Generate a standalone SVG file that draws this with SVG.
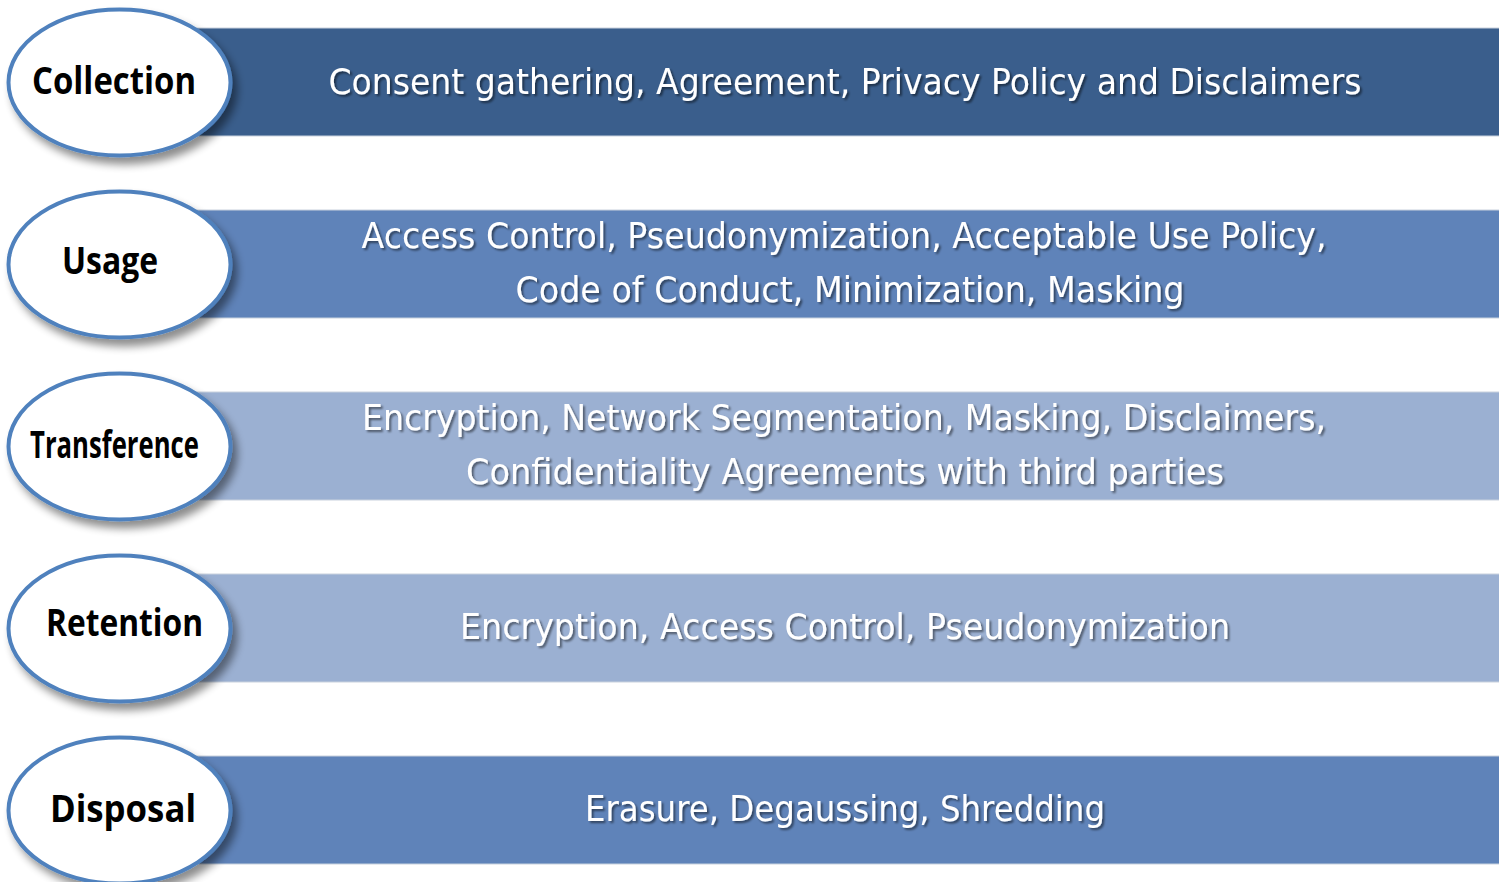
<svg xmlns="http://www.w3.org/2000/svg" width="1499" height="882" viewBox="0 0 1499 882">
  <defs>
    <filter id="ovalShadow" x="-20%" y="-20%" width="150%" height="160%">
      <feGaussianBlur in="SourceAlpha" stdDeviation="4"/>
      <feOffset dx="5" dy="7" result="b"/>
      <feComponentTransfer><feFuncA type="linear" slope="0.45"/></feComponentTransfer>
      <feMerge><feMergeNode/><feMergeNode in="SourceGraphic"/></feMerge>
    </filter>
    <filter id="textShadow" x="-5%" y="-30%" width="110%" height="170%">
      <feGaussianBlur in="SourceAlpha" stdDeviation="1"/>
      <feOffset dx="2" dy="2"/>
      <feComponentTransfer><feFuncA type="linear" slope="0.5"/></feComponentTransfer>
      <feMerge><feMergeNode/><feMergeNode in="SourceGraphic"/></feMerge>
    </filter>
  </defs>
  <style>
    .band { stroke: #c9d2de; stroke-width: 1; }
    .dark { fill: #3a5e8c; }
    .mid { fill: #5f83b9; }
    .light { fill: #9bb0d2; }
    .oval { fill: #ffffff; stroke: #4f81bd; stroke-width: 4; filter: url(#ovalShadow); }
    .label { font-family: "Open Sans", "DejaVu Sans", sans-serif; font-weight: bold; font-size: 38px; fill: #000000; }
    .desc { font-family: "DejaVu Sans", "Noto Sans", sans-serif; font-size: 35px; fill: #ffffff; text-anchor: middle; filter: url(#textShadow); }
  </style>
  <rect width="1499" height="882" fill="#ffffff"/>

  <!-- Collection -->
  <g id="collection">
    <rect class="band dark" x="190" y="28" width="1310" height="108"/>
    <text class="desc" x="845" y="94" textLength="1033" lengthAdjust="spacingAndGlyphs">Consent gathering, Agreement, Privacy Policy and Disclaimers</text>
    <ellipse class="oval" cx="119.5" cy="82.5" rx="111" ry="73"/>
    <text class="label" x="32" y="94" textLength="164" lengthAdjust="spacingAndGlyphs">Collection</text>
  </g>

  <!-- Usage -->
  <g id="usage">
    <rect class="band mid" x="190" y="210" width="1310" height="108"/>
    <text class="desc" x="844" y="248" textLength="965" lengthAdjust="spacingAndGlyphs">Access Control, Pseudonymization, Acceptable Use Policy,</text>
    <text class="desc" x="850" y="302" textLength="669" lengthAdjust="spacingAndGlyphs">Code of Conduct, Minimization, Masking</text>
    <ellipse class="oval" cx="119.5" cy="264.5" rx="111" ry="73"/>
    <text class="label" x="62" y="274" textLength="96" lengthAdjust="spacingAndGlyphs">Usage</text>
  </g>

  <!-- Transference -->
  <g id="transference">
    <rect class="band light" x="190" y="392" width="1310" height="108"/>
    <text class="desc" x="844" y="430" textLength="964" lengthAdjust="spacingAndGlyphs">Encryption, Network Segmentation, Masking, Disclaimers,</text>
    <text class="desc" x="845" y="484" textLength="758" lengthAdjust="spacingAndGlyphs">Confidentiality Agreements with third parties</text>
    <ellipse class="oval" cx="119.5" cy="446.5" rx="111" ry="73"/>
    <text class="label" x="30" y="458" textLength="169" lengthAdjust="spacingAndGlyphs">Transference</text>
  </g>

  <!-- Retention -->
  <g id="retention">
    <rect class="band light" x="190" y="574" width="1310" height="108"/>
    <text class="desc" x="845" y="639" textLength="770" lengthAdjust="spacingAndGlyphs">Encryption, Access Control, Pseudonymization</text>
    <ellipse class="oval" cx="119.5" cy="628.5" rx="111" ry="73"/>
    <text class="label" x="46" y="636" textLength="157" lengthAdjust="spacingAndGlyphs">Retention</text>
  </g>

  <!-- Disposal -->
  <g id="disposal">
    <rect class="band mid" x="190" y="756" width="1310" height="108"/>
    <text class="desc" x="845" y="821" textLength="520" lengthAdjust="spacingAndGlyphs">Erasure, Degaussing, Shredding</text>
    <ellipse class="oval" cx="119.5" cy="810.5" rx="111" ry="73"/>
    <text class="label" x="50" y="822" textLength="146" lengthAdjust="spacingAndGlyphs">Disposal</text>
  </g>

  <g id="connectors"/>
</svg>
